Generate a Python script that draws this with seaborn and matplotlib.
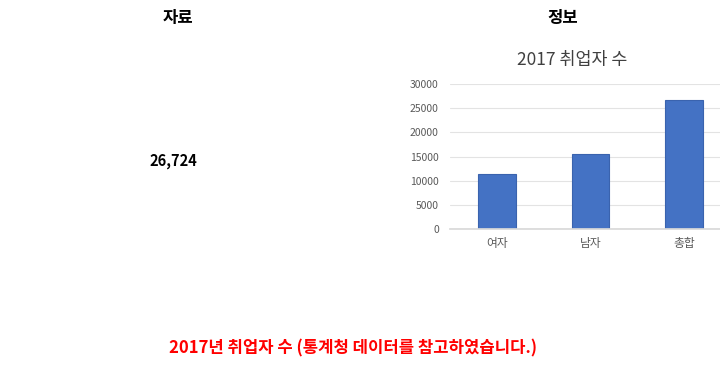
import matplotlib
matplotlib.use("Agg")
import matplotlib.pyplot as plt
import seaborn as sns
import pandas as pd

categories = ["여자", "남자", "총합"]
values = [11300, 15424, 26724]
yticks = [0, 5000, 10000, 15000, 20000, 25000, 30000]
total_label = "26,724"

sns.set_theme(style="white")
plt.rcParams['font.family'] = ['Noto Sans CJK KR', 'DejaVu Sans']

fig = plt.figure(figsize=(7.2, 3.68), dpi=100)
ax = fig.add_axes([0.625, 0.3777, 0.375, 0.394])
df = pd.DataFrame({"cat": categories, "val": values})
sns.barplot(data=df, x="cat", y="val", ax=ax, color="#4472C4", width=0.4,
            saturation=1, edgecolor="#3A63AE", linewidth=0.8)
ax.set_xlim(-0.5, 2.385)
ax.set_ylim(0, 30000)
ax.set_yticks(yticks)
ax.set_yticklabels([str(v) for v in yticks])
ax.yaxis.grid(True, color="#E3E3E3", linewidth=0.8)
ax.set_axisbelow(True)
for s in ["top", "right", "left"]:
    ax.spines[s].set_visible(False)
ax.spines["bottom"].set_color("#D9D9D9")
ax.set_xlabel("")
ax.set_ylabel("")
ax.tick_params(axis="both", length=0, colors="#595959")
ax.tick_params(axis="y", pad=8, labelsize=7.5)
ax.tick_params(axis="x", pad=6, labelsize=8.5)
fig.text(572/720, 1-60/368, "2017 취업자 수", ha="center", va="center", fontsize=12.5, color="#404040")

fig.text(178/720, 1-18/368, "자료", ha="center", va="center", fontsize=12, fontweight="bold", color="black")
fig.text(563/720, 1-18/368, "정보", ha="center", va="center", fontsize=12, fontweight="bold", color="black")
fig.text(173/720, 1-161/368, total_label, ha="center", va="center", fontsize=10.5, fontweight="bold", color="black")
fig.text(353/720, 1-348/368, "2017년 취업자 수 (통계청 데이터를 참고하였습니다.)", ha="center", va="center",
         fontsize=12, fontweight="bold", color="#FF0000")

fig.savefig("out.png", dpi=100)
